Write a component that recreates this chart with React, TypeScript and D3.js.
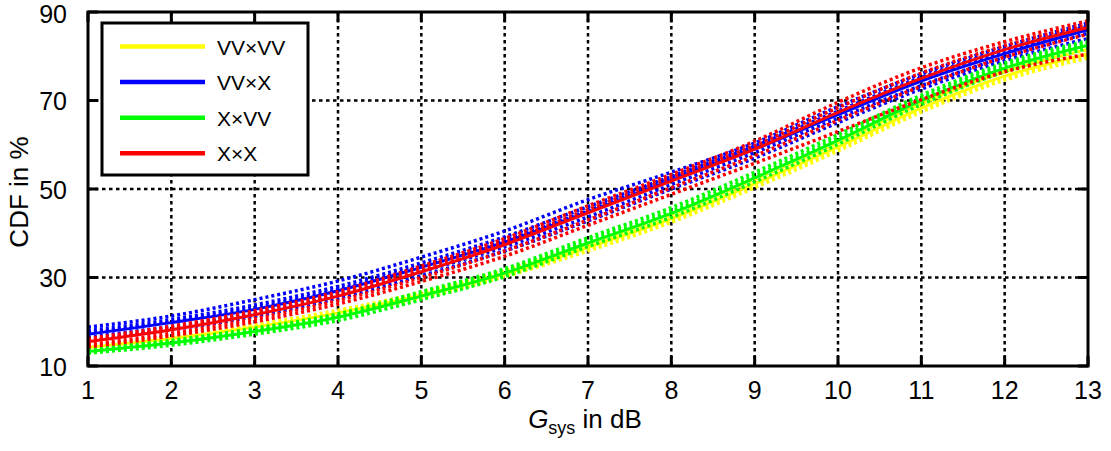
import React from "react";
import * as d3 from "d3";

// ---------- data ----------
const gsys = [1, 2, 3, 4, 5, 6, 7, 8, 9, 10, 11, 12, 13];
const xTicks = [1, 2, 3, 4, 5, 6, 7, 8, 9, 10, 11, 12, 13];
const yTicks = [10, 30, 50, 70, 90];

// VV×VV (yellow)
const vvvvMean = [14.2, 16.2, 18.8, 22.0, 26.0, 30.8, 36.8, 43.3, 51.2, 59.5, 68.3, 75.5, 80.5];
const vvvvRuns = [
  [14.6, 16.7, 19.3, 22.6, 26.6, 31.5, 37.6, 44.2, 52.2, 60.5, 69.3, 76.5, 81.5],
  [13.8, 15.8, 18.3, 21.4, 25.4, 30.2, 36.0, 42.5, 50.3, 58.6, 67.4, 74.6, 79.6],
  [14.0, 16.0, 18.6, 21.8, 25.8, 30.5, 36.5, 43.0, 51.0, 59.2, 68.0, 75.2, 80.3],
];
// VV×X (blue)
const vvxMean = [17.2, 19.8, 22.8, 27.0, 32.3, 38.0, 44.8, 52.0, 59.0, 66.8, 74.4, 80.6, 86.0];
const vvxRuns = [
  [18.8, 21.3, 25.0, 29.2, 34.6, 40.5, 47.6, 53.8, 60.4, 68.6, 76.0, 82.2, 87.5],
  [18.0, 20.5, 23.8, 28.0, 33.3, 39.2, 46.0, 52.8, 59.7, 67.6, 75.2, 81.5, 86.8],
  [16.5, 19.0, 22.0, 26.0, 31.3, 36.9, 43.7, 51.0, 58.2, 66.0, 73.4, 79.8, 85.2],
  [15.8, 18.2, 21.2, 25.3, 30.4, 36.0, 42.8, 50.0, 57.0, 65.0, 72.6, 79.0, 84.0],
  [17.5, 20.0, 23.2, 27.3, 32.6, 38.3, 45.1, 52.2, 59.2, 67.0, 74.6, 80.8, 86.3],
];
// X×VV (green)
const xvvMean = [13.3, 15.2, 17.8, 21.0, 25.8, 31.0, 37.8, 44.5, 52.5, 61.0, 70.0, 77.3, 82.5];
const xvvRuns = [
  [13.8, 15.8, 18.5, 21.8, 26.8, 32.0, 39.0, 45.8, 53.8, 62.3, 71.2, 78.5, 83.5],
  [12.9, 14.7, 17.2, 20.3, 25.0, 30.2, 37.0, 43.6, 51.6, 60.1, 69.1, 76.5, 81.8],
  [13.5, 15.4, 18.0, 21.3, 26.2, 31.5, 38.3, 45.0, 53.0, 61.5, 70.6, 77.8, 83.0],
];
// X×X (red)
const xxMean = [15.5, 18.2, 21.6, 25.8, 31.3, 37.4, 44.6, 51.8, 59.0, 67.3, 75.0, 81.5, 86.5];
const xxRuns = [
  [16.2, 19.0, 22.5, 26.8, 32.6, 38.8, 46.2, 53.3, 60.8, 69.6, 77.4, 83.3, 88.0],
  [15.8, 18.5, 22.0, 26.2, 31.8, 38.0, 45.3, 52.6, 59.8, 68.4, 76.2, 82.4, 87.2],
  [14.8, 17.4, 20.7, 24.8, 30.0, 36.0, 43.0, 50.3, 57.5, 65.5, 73.2, 79.8, 85.0],
  [14.3, 16.8, 20.0, 24.0, 29.1, 34.8, 41.8, 48.8, 55.8, 63.0, 70.2, 76.5, 80.5],
];

const seriesNames = ["VV×VV", "VV×X", "X×VV", "X×X"];
const seriesColors = ["#ffff00", "#0000ff", "#00ff00", "#ff0000"];
const seriesMeans = [vvvvMean, vvxMean, xvvMean, xxMean];
const seriesRuns = [vvvvRuns, vvxRuns, xvvRuns, xxRuns];

// ---------- layout ----------
const W = 1111;
const H = 451;
const L = 88, R = 1088, T = 12, B = 366;

export default function App() {
  const x = d3.scaleLinear().domain([1, 13]).range([L, R]);
  const y = d3.scaleLinear().domain([10, 90]).range([B, T]);
  const line = d3
    .line<number>()
    .x((_, i) => x(gsys[i]))
    .y((d) => y(d))
    .curve(d3.curveMonotoneX);

  const font = "Arial, 'Liberation Sans', Helvetica, sans-serif";

  return (
    <svg
      width={W}
      height={H}
      style={{ position: "absolute", left: 0, top: 0, background: "#fff" }}
      fontFamily={font}
    >
      <rect x={0} y={0} width={W} height={H} fill="#fff" />
      {/* grid */}
      <g stroke="#000" strokeWidth={2.5} strokeDasharray="3.5,3.5">
        {xTicks.slice(1, -1).map((t) => (
          <line key={"gx" + t} x1={x(t)} x2={x(t)} y1={T} y2={B} />
        ))}
        {yTicks.slice(1, -1).map((t) => (
          <line key={"gy" + t} x1={L} x2={R} y1={y(t)} y2={y(t)} />
        ))}
      </g>
      {/* data */}
      <g fill="none">
        {seriesNames.map((name, si) => (
          <g key={name}>
            {seriesRuns[si].map((run, ri) => (
              <path
                key={ri}
                d={line(run) || ""}
                stroke={seriesColors[si]}
                strokeWidth={3.5}
                strokeDasharray="3,3"
              />
            ))}
            <path d={line(seriesMeans[si]) || ""} stroke={seriesColors[si]} strokeWidth={3} />
          </g>
        ))}
      </g>
      {/* frame & ticks */}
      <g stroke="#000" strokeWidth={3} fill="none">
        <rect x={L} y={T} width={R - L} height={B - T} />
        {xTicks.map((t) => (
          <g key={"tx" + t}>
            <line x1={x(t)} x2={x(t)} y1={B} y2={B - 10} />
            <line x1={x(t)} x2={x(t)} y1={T} y2={T + 10} />
          </g>
        ))}
        {yTicks.map((t) => (
          <g key={"ty" + t}>
            <line x1={L} x2={L + 10} y1={y(t)} y2={y(t)} />
            <line x1={R} x2={R - 10} y1={y(t)} y2={y(t)} />
          </g>
        ))}
      </g>
      {/* tick labels */}
      <g fontSize={25} fill="#000">
        {xTicks.map((t) => (
          <text key={"lx" + t} x={x(t)} y={399} textAnchor="middle">
            {t}
          </text>
        ))}
        {yTicks.map((t) => (
          <text key={"ly" + t} x={67} y={Math.max(y(t) + 9.5, 23)} textAnchor="end">
            {t}
          </text>
        ))}
      </g>
      {/* axis titles */}
      <text x={585} y={428} textAnchor="middle" fontSize={26} fill="#000">
        <tspan fontStyle="italic">G</tspan>
        <tspan fontSize={18} dy={6}>sys</tspan>
        <tspan dy={-6}> in dB</tspan>
      </text>
      <text
        transform="translate(28,192) rotate(-90)"
        textAnchor="middle"
        fontSize={26}
        fill="#000"
      >
        CDF in %
      </text>
      {/* legend */}
      <g>
        <rect x={102} y={23} width={206} height={152} fill="#fff" stroke="#000" strokeWidth={3} />
        {seriesNames.map((name, i) => {
          const ly = 46.5 + i * 35.6;
          return (
            <g key={"lg" + name}>
              <line x1={120} x2={205} y1={ly} y2={ly} stroke={seriesColors[i]} strokeWidth={4.5} />
              <text x={217} y={ly + 8} fontSize={21} fill="#000">
                {name}
              </text>
            </g>
          );
        })}
      </g>
    </svg>
  );
}
